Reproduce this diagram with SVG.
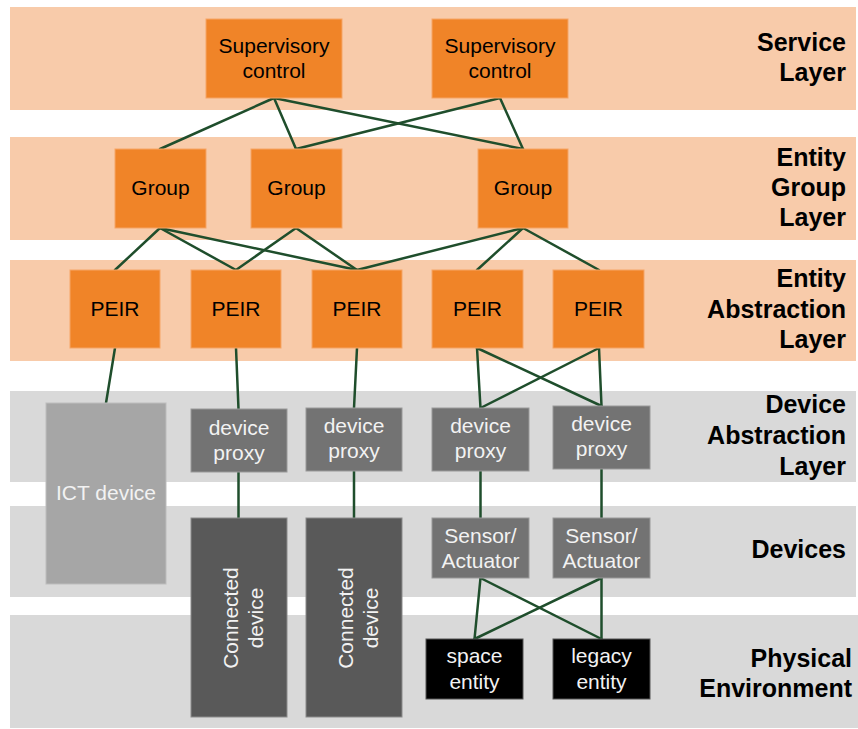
<svg xmlns="http://www.w3.org/2000/svg" width="858" height="729" viewBox="0 0 858 729">
  <style>
    text { font-family: "Liberation Sans", Arial, sans-serif; }
    .band-o { fill: #f8cbaa; }
    .band-g { fill: #d9d9d9; }
    .layer { font-size: 25px; font-weight: bold; fill: #000; text-anchor: end; }
    .n-org { fill: #f08428; stroke: #f5a566; stroke-width: 1; }
    .n-prx { fill: #737373; stroke: #9a9a9a; stroke-width: 1; }
    .n-ict { fill: #a6a6a6; stroke: #bdbdbd; stroke-width: 1; }
    .n-con { fill: #595959; stroke: #8c8c8c; stroke-width: 1; }
    .n-ent { fill: #000; stroke: #555; stroke-width: 1; }
    .t-dark { font-size: 21px; fill: #000; text-anchor: middle; }
    .t-light { font-size: 21px; fill: #f2f2f2; text-anchor: middle; }
    .link { stroke: #1f4e2c; stroke-width: 2.5; fill: none; stroke-linecap: round; }
  </style>

  <!-- horizontal layer bands -->
  <g id="bands">
    <rect class="band-o" x="10" y="7" width="846" height="103"/>
    <rect class="band-o" x="10" y="137" width="846" height="103"/>
    <rect class="band-o" x="10" y="260" width="846" height="101"/>
    <rect class="band-g" x="10" y="391" width="846" height="91"/>
    <rect class="band-g" x="10" y="506" width="846" height="91"/>
    <rect class="band-g" x="10" y="615" width="848" height="113"/>
  </g>

  <!-- layer titles -->
  <g id="layer-labels">
    <text class="layer" x="846" y="51">Service</text>
    <text class="layer" x="846" y="81">Layer</text>
    <text class="layer" x="846" y="166">Entity</text>
    <text class="layer" x="846" y="196">Group</text>
    <text class="layer" x="846" y="226">Layer</text>
    <text class="layer" x="846" y="287">Entity</text>
    <text class="layer" x="846" y="318">Abstraction</text>
    <text class="layer" x="846" y="348">Layer</text>
    <text class="layer" x="846" y="413">Device</text>
    <text class="layer" x="846" y="444">Abstraction</text>
    <text class="layer" x="846" y="475">Layer</text>
    <text class="layer" x="846" y="558">Devices</text>
    <text class="layer" x="852" y="667">Physical</text>
    <text class="layer" x="852" y="697">Environment</text>
  </g>

  <!-- connectors -->
  <g id="connectors">
    <line class="link" x1="274" y1="98" x2="160" y2="149"/>
    <line class="link" x1="274" y1="98" x2="296" y2="149"/>
    <line class="link" x1="274" y1="98" x2="523" y2="149"/>
    <line class="link" x1="500" y1="98" x2="296" y2="149"/>
    <line class="link" x1="500" y1="98" x2="523" y2="149"/>

    <line class="link" x1="160" y1="228" x2="115" y2="270"/>
    <line class="link" x1="160" y1="228" x2="236" y2="270"/>
    <line class="link" x1="160" y1="228" x2="357" y2="270"/>
    <line class="link" x1="296" y1="228" x2="236" y2="270"/>
    <line class="link" x1="296" y1="228" x2="357" y2="270"/>
    <line class="link" x1="523" y1="228" x2="357" y2="270"/>
    <line class="link" x1="523" y1="228" x2="477" y2="270"/>
    <line class="link" x1="523" y1="228" x2="599" y2="270"/>

    <line class="link" x1="115" y1="348" x2="106" y2="403"/>
    <line class="link" x1="236" y1="348" x2="238.5" y2="409"/>
    <line class="link" x1="357" y1="348" x2="354" y2="408"/>
    <line class="link" x1="477" y1="348" x2="480.5" y2="408"/>
    <line class="link" x1="477" y1="348" x2="601.5" y2="406"/>
    <line class="link" x1="599" y1="348" x2="480.5" y2="408"/>
    <line class="link" x1="599" y1="348" x2="601.5" y2="406"/>

    <line class="link" x1="238.5" y1="472" x2="238.5" y2="518"/>
    <line class="link" x1="354" y1="471" x2="354" y2="518"/>
    <line class="link" x1="480.5" y1="471" x2="480.5" y2="518"/>
    <line class="link" x1="601.5" y1="469" x2="601.5" y2="518"/>

    <line class="link" x1="480.5" y1="578" x2="474.5" y2="639"/>
    <line class="link" x1="480.5" y1="578" x2="601.5" y2="639"/>
    <line class="link" x1="601.5" y1="578" x2="474.5" y2="639"/>
    <line class="link" x1="601.5" y1="578" x2="601.5" y2="639"/>
  </g>

  <!-- service layer -->
  <g id="supervisory-1">
    <rect class="n-org" x="206" y="19" width="136" height="79"/>
    <text class="t-dark" x="274" y="52.5">Supervisory</text>
    <text class="t-dark" x="274" y="77.5">control</text>
  </g>
  <g id="supervisory-2">
    <rect class="n-org" x="432" y="19" width="136" height="79"/>
    <text class="t-dark" x="500" y="52.5">Supervisory</text>
    <text class="t-dark" x="500" y="77.5">control</text>
  </g>

  <!-- entity group layer -->
  <g id="group-1">
    <rect class="n-org" x="115" y="149" width="91" height="79"/>
    <text class="t-dark" x="160.5" y="194.5">Group</text>
  </g>
  <g id="group-2">
    <rect class="n-org" x="251" y="149" width="91" height="79"/>
    <text class="t-dark" x="296.5" y="194.5">Group</text>
  </g>
  <g id="group-3">
    <rect class="n-org" x="478" y="149" width="90" height="79"/>
    <text class="t-dark" x="523" y="194.5">Group</text>
  </g>

  <!-- entity abstraction layer -->
  <g id="peir-1">
    <rect class="n-org" x="70" y="270" width="90" height="78"/>
    <text class="t-dark" x="115" y="316">PEIR</text>
  </g>
  <g id="peir-2">
    <rect class="n-org" x="191" y="270" width="90" height="78"/>
    <text class="t-dark" x="236" y="316">PEIR</text>
  </g>
  <g id="peir-3">
    <rect class="n-org" x="312" y="270" width="90" height="78"/>
    <text class="t-dark" x="357" y="316">PEIR</text>
  </g>
  <g id="peir-4">
    <rect class="n-org" x="432" y="270" width="91" height="78"/>
    <text class="t-dark" x="477.5" y="316">PEIR</text>
  </g>
  <g id="peir-5">
    <rect class="n-org" x="553" y="270" width="91" height="78"/>
    <text class="t-dark" x="598.5" y="316">PEIR</text>
  </g>

  <!-- device abstraction layer -->
  <g id="ict-device">
    <rect class="n-ict" x="46" y="403" width="120" height="181"/>
    <text class="t-light" x="106" y="500">ICT device</text>
  </g>
  <g id="proxy-1">
    <rect class="n-prx" x="191" y="409" width="96" height="63"/>
    <text class="t-light" x="239" y="434.5">device</text>
    <text class="t-light" x="239" y="459.5">proxy</text>
  </g>
  <g id="proxy-2">
    <rect class="n-prx" x="306" y="408" width="96" height="63"/>
    <text class="t-light" x="354" y="433">device</text>
    <text class="t-light" x="354" y="458">proxy</text>
  </g>
  <g id="proxy-3">
    <rect class="n-prx" x="432" y="408" width="97" height="63"/>
    <text class="t-light" x="480.5" y="433">device</text>
    <text class="t-light" x="480.5" y="458">proxy</text>
  </g>
  <g id="proxy-4">
    <rect class="n-prx" x="553" y="406" width="97" height="63"/>
    <text class="t-light" x="601.5" y="431">device</text>
    <text class="t-light" x="601.5" y="456">proxy</text>
  </g>

  <!-- devices -->
  <g id="connected-1">
    <rect class="n-con" x="191" y="518" width="96" height="199"/>
    <g transform="rotate(-90 239 618)">
      <text class="t-light" x="239" y="616.5">Connected</text>
      <text class="t-light" x="239" y="642">device</text>
    </g>
  </g>
  <g id="connected-2">
    <rect class="n-con" x="306" y="518" width="96" height="199"/>
    <g transform="rotate(-90 354 618)">
      <text class="t-light" x="354" y="616.5">Connected</text>
      <text class="t-light" x="354" y="642">device</text>
    </g>
  </g>
  <g id="sensor-1">
    <rect class="n-prx" x="432" y="518" width="97" height="60"/>
    <text class="t-light" x="480.5" y="542.5">Sensor/</text>
    <text class="t-light" x="480.5" y="567.5">Actuator</text>
  </g>
  <g id="sensor-2">
    <rect class="n-prx" x="553" y="518" width="97" height="60"/>
    <text class="t-light" x="601.5" y="542.5">Sensor/</text>
    <text class="t-light" x="601.5" y="567.5">Actuator</text>
  </g>

  <!-- physical environment -->
  <g id="space-entity">
    <rect class="n-ent" x="426" y="639" width="97" height="60"/>
    <text class="t-light" x="474.5" y="663">space</text>
    <text class="t-light" x="474.5" y="688.5">entity</text>
  </g>
  <g id="legacy-entity">
    <rect class="n-ent" x="553" y="639" width="97" height="60"/>
    <text class="t-light" x="601.5" y="663">legacy</text>
    <text class="t-light" x="601.5" y="688.5">entity</text>
  </g>
</svg>
